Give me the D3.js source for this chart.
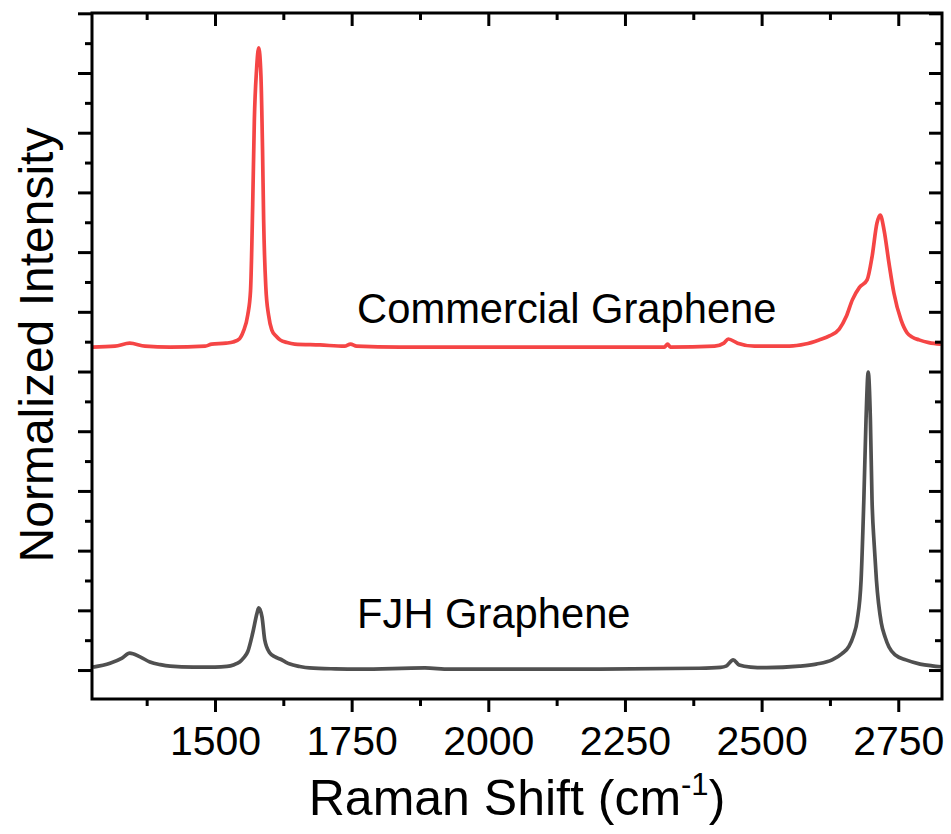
<!DOCTYPE html>
<html>
<head>
<meta charset="utf-8">
<script src="https://cdn.jsdelivr.net/npm/d3@7"></script>
<style>
  body { margin: 0; background: #fff; }
  svg text { font-family: "Liberation Sans", Arial, sans-serif; fill: #000; }
</style>
</head>
<body>
<svg id="chart" width="951" height="834"></svg>
<script>
// FJH graphene (grey), normalized so the 2D peak is 1
var fjhShift = [1277, 1308, 1330, 1344, 1363, 1381, 1400, 1418, 1460, 1500, 1522, 1535, 1545, 1552, 1560, 1569, 1577, 1580, 1586, 1591,
    1600, 1610, 1619, 1628, 1637, 1655, 1673, 1720, 1765, 1884, 1929, 2057, 2203, 2386, 2425, 2435, 2448, 2459, 2480, 2509, 2569,
    2600, 2629, 2647, 2660, 2668, 2675, 2682, 2687, 2691, 2695, 2699, 2702, 2706, 2710, 2719, 2726, 2733, 2745, 2764, 2790, 2812, 2828];
var fjhIntensity = [0.010, 0.023, 0.040, 0.057, 0.044, 0.027, 0.018, 0.013, 0.010, 0.010, 0.012, 0.018, 0.027, 0.040, 0.062, 0.124, 0.191, 0.208, 0.178, 0.101,
    0.058, 0.044, 0.037, 0.028, 0.020, 0.012, 0.007, 0.004, 0.003, 0.007, 0.003, 0.003, 0.003, 0.006, 0.009, 0.013, 0.034, 0.017, 0.010, 0.008, 0.013,
    0.020, 0.034, 0.055, 0.080, 0.115, 0.168, 0.302, 0.570, 0.838, 0.998, 0.838, 0.570, 0.419, 0.302, 0.157, 0.110, 0.077, 0.050, 0.034, 0.020, 0.014, 0.011];

// commercial graphene (red), stacked above
var commShift = [1275, 1317, 1344, 1372, 1418, 1482, 1494, 1520, 1533, 1545, 1552, 1560, 1565, 1569, 1572, 1576, 1580,
    1584, 1587, 1589, 1593, 1598, 1604, 1612, 1619, 1632, 1646, 1692, 1737, 1748, 1759, 1838, 2021, 2203, 2322, 2328,
    2333, 2414, 2431, 2439, 2456, 2487, 2551, 2580, 2605, 2625, 2642, 2655, 2666, 2679, 2693, 2702, 2711, 2717, 2724, 2733,
    2742, 2755, 2766, 2776, 2788, 2806, 2828];
var commIntensity = [1.082, 1.085, 1.095, 1.085, 1.082, 1.085, 1.092, 1.095, 1.099, 1.110, 1.135, 1.190, 1.270, 1.560, 1.843, 2.010, 2.084,
    1.993, 1.742, 1.508, 1.283, 1.189, 1.139, 1.118, 1.106, 1.097, 1.092, 1.089, 1.085, 1.092, 1.085, 1.082, 1.082, 1.082, 1.082, 1.092,
    1.082, 1.085, 1.095, 1.109, 1.095, 1.085, 1.085, 1.092, 1.106, 1.120, 1.142, 1.185, 1.240, 1.282, 1.307, 1.384, 1.497, 1.524, 1.474, 1.363,
    1.263, 1.173, 1.130, 1.115, 1.106, 1.097, 1.092];

var xTicks = [1500, 1750, 2000, 2250, 2500, 2750];
var xMinorTicks = [1375, 1625, 1875, 2125, 2375, 2625];
var yTicks = [0, 0.2, 0.4, 0.6, 0.8, 1.0, 1.2, 1.4, 1.6, 1.8, 2.0, 2.2];
var yMinorTicks = [0.1, 0.3, 0.5, 0.7, 0.9, 1.1, 1.3, 1.5, 1.7, 1.9, 2.1];

var labels = [
    {text: 'Commercial Graphene', shift: 1760, value: 1.162},
    {text: 'FJH Graphene', shift: 1760, value: 0.141}
];

var svg = d3.select('#chart');
var plotLeft = 92, plotRight = 942, plotTop = 13, plotBottom = 699;

var x = d3.scaleLinear().domain([1275, 2830]).range([plotLeft, plotRight]);
var y = d3.scaleLinear().domain([-0.097, 2.201]).range([plotBottom, plotTop]);

// curves
var line = d3.line()
    .x(function(d) { return x(d[0]); })
    .y(function(d) { return y(d[1]); })
    .curve(d3.curveMonotoneX);

svg.append('path')
    .datum(d3.zip(fjhShift, fjhIntensity))
    .attr('fill', 'none')
    .attr('stroke', '#505050')
    .attr('stroke-width', 3.7)
    .attr('stroke-linejoin', 'round')
    .attr('d', line);

svg.append('path')
    .datum(d3.zip(commShift, commIntensity))
    .attr('fill', 'none')
    .attr('stroke', '#f54545')
    .attr('stroke-width', 3.7)
    .attr('stroke-linejoin', 'round')
    .attr('d', line);

// axes: major + minor, left/bottom outward, top/right inward
function styleAxis(g) {
    g.select('.domain').remove();
    g.selectAll('.tick line').attr('stroke', '#000').attr('stroke-width', 3);
}

function noLabels(g) {
    g.selectAll('.tick text').remove();
}

svg.append('g')
    .attr('transform', 'translate(0,' + plotBottom + ')')
    .call(d3.axisBottom(x).tickValues(xTicks).tickSize(13).tickPadding(14).tickFormat(d3.format('d')))
    .call(styleAxis)
    .selectAll('text')
    .style('font-size', '41px');

svg.append('g')
    .attr('transform', 'translate(0,' + plotBottom + ')')
    .call(d3.axisBottom(x).tickValues(xMinorTicks).tickSize(7))
    .call(styleAxis).call(noLabels);

svg.append('g')
    .attr('transform', 'translate(0,' + plotTop + ')')
    .call(d3.axisTop(x).tickValues(xTicks).tickSize(-13))
    .call(styleAxis).call(noLabels);

svg.append('g')
    .attr('transform', 'translate(0,' + plotTop + ')')
    .call(d3.axisTop(x).tickValues(xMinorTicks).tickSize(-7))
    .call(styleAxis).call(noLabels);

svg.append('g')
    .attr('transform', 'translate(' + plotLeft + ',0)')
    .call(d3.axisLeft(y).tickValues(yTicks).tickSize(14))
    .call(styleAxis).call(noLabels);

svg.append('g')
    .attr('transform', 'translate(' + plotLeft + ',0)')
    .call(d3.axisLeft(y).tickValues(yMinorTicks).tickSize(7))
    .call(styleAxis).call(noLabels);

svg.append('g')
    .attr('transform', 'translate(' + plotRight + ',0)')
    .call(d3.axisRight(y).tickValues(yTicks).tickSize(-13))
    .call(styleAxis).call(noLabels);

svg.append('g')
    .attr('transform', 'translate(' + plotRight + ',0)')
    .call(d3.axisRight(y).tickValues(yMinorTicks).tickSize(-7))
    .call(styleAxis).call(noLabels);

// frame
svg.append('rect')
    .attr('x', plotLeft)
    .attr('y', plotTop)
    .attr('width', plotRight - plotLeft)
    .attr('height', plotBottom - plotTop)
    .attr('fill', 'none')
    .attr('stroke', '#000')
    .attr('stroke-width', 3);

// series labels
svg.selectAll('.series_label')
    .data(labels)
    .enter()
    .append('text')
    .attr('class', 'series_label')
    .attr('x', function(d) { return x(d.shift); })
    .attr('y', function(d) { return y(d.value); })
    .style('font-size', '41.7px')
    .text(function(d) { return d.text; });

// axis titles
var xTitle = svg.append('text')
    .attr('x', 517)
    .attr('y', 815)
    .attr('text-anchor', 'middle')
    .style('font-size', '50px');
xTitle.append('tspan').text('Raman Shift (cm');
xTitle.append('tspan').attr('dy', -20).style('font-size', '31px').text('-1');
xTitle.append('tspan').attr('dy', 20).text(')');

svg.append('text')
    .attr('transform', 'translate(53,345) rotate(-90)')
    .attr('text-anchor', 'middle')
    .style('font-size', '48px')
    .text('Normalized Intensity');
</script>
</body>
</html>
